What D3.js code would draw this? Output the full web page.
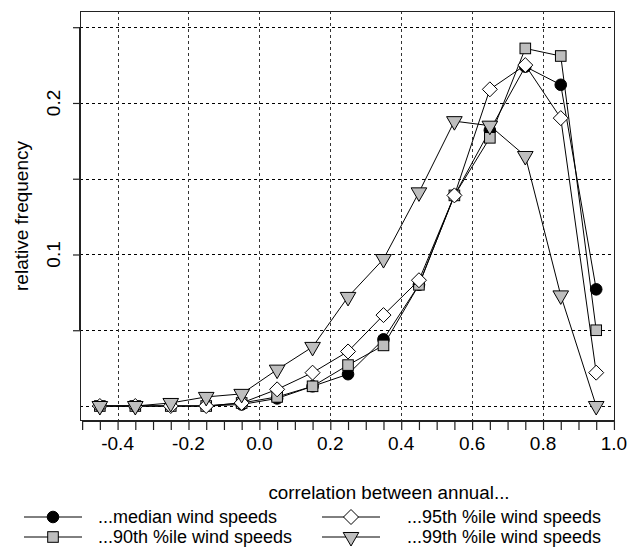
<!DOCTYPE html>
<html>
<head>
<meta charset="utf-8">
<script src="https://cdn.jsdelivr.net/npm/d3@7/dist/d3.min.js"></script>
<style>
  html, body { margin: 0; padding: 0; background: #fff; }
  svg { display: block; font-family: "Liberation Sans", Arial, Helvetica, sans-serif; }
</style>
</head>
<body>
<svg id="chart" width="629" height="552"></svg>
<script>
// Bin centres of the correlation histogram
const binCentres = [-0.45, -0.35, -0.25, -0.15, -0.05, 0.05, 0.15, 0.25, 0.35, 0.45, 0.55, 0.65, 0.75, 0.85, 0.95];

// Relative frequency per bin for each wind-speed statistic
const medianValues = [0.000, 0.000, 0.000, 0.000, 0.001, 0.005, 0.013, 0.021, 0.044, 0.080, 0.139, 0.182, 0.224, 0.212, 0.077];
const p90Values    = [0.000, 0.000, 0.000, 0.000, 0.002, 0.006, 0.013, 0.027, 0.040, 0.080, 0.139, 0.177, 0.236, 0.231, 0.050];
const p95Values    = [0.000, 0.000, 0.000, 0.000, 0.002, 0.011, 0.022, 0.036, 0.060, 0.083, 0.139, 0.209, 0.225, 0.190, 0.022];
const p99Values    = [0.000, 0.000, 0.002, 0.006, 0.008, 0.024, 0.039, 0.072, 0.097, 0.141, 0.188, 0.185, 0.165, 0.073, 0.000];

const seriesNames = ["...median wind speeds", "...90th %ile wind speeds", "...95th %ile wind speeds", "...99th %ile wind speeds"];

// Axis ticks
const xMinorTicks = d3.range(-10, 21).map(i => i * 0.05);
const xLabelTicks = [-0.4, -0.2, 0.0, 0.2, 0.4, 0.6, 0.8, 1.0];
const xGridTicks  = [-0.4, -0.2, 0.0, 0.2, 0.4, 0.6, 0.8];
const yTicks      = [0.05, 0.10, 0.15, 0.20, 0.25];
const yLabelTicks = [0.1, 0.2];
const yGridTicks  = [0, 0.05, 0.10, 0.15, 0.20, 0.25];

const xTitle = "correlation between annual...";
const yTitle = "relative frequency";

const svg = d3.select("#chart");
const plotL = 80, plotR = 615, plotT = 11, plotB = 421;

const x = d3.scaleLinear().domain([-0.506, 1.003]).range([plotL, plotR]);
const y = d3.scaleLinear().domain([-0.0099, 0.2607]).range([plotB, plotT]);

const FONT = 19;
const GREY = "#bebebe";

// Grid
const grid = svg.append("g").attr("stroke", "#000").attr("stroke-width", 1)
  .attr("stroke-dasharray", "3,3").attr("fill", "none");
grid.selectAll("line.h").data(yGridTicks).join("line").attr("class", "h")
  .attr("x1", plotL).attr("x2", plotR)
  .attr("y1", d => Math.round(y(d)) + 0.5).attr("y2", d => Math.round(y(d)) + 0.5);
grid.selectAll("line.v").data(xGridTicks).join("line").attr("class", "v")
  .attr("stroke", "#333")
  .attr("y1", plotT).attr("y2", plotB)
  .attr("x1", d => Math.round(x(d)) + 0.5).attr("x2", d => Math.round(x(d)) + 0.5);

// Plot frame
svg.append("rect")
  .attr("x", plotL + 0.5).attr("y", plotT + 0.5)
  .attr("width", plotR - plotL - 1).attr("height", plotB - plotT - 1)
  .attr("fill", "none").attr("stroke", "#222").attr("stroke-width", 1);

// X axis
const xAxis = d3.axisBottom(x).tickValues(xMinorTicks).tickSize(9).tickFormat("");
const gx = svg.append("g").attr("transform", `translate(0,${plotB})`).call(xAxis);
gx.select(".domain").remove();
gx.selectAll(".tick line").attr("stroke", "#222").attr("stroke-width", 1.2);
svg.append("line")
  .attr("x1", x(-0.5)).attr("x2", x(1.0)).attr("y1", plotB).attr("y2", plotB)
  .attr("stroke", "#222").attr("stroke-width", 2);
svg.append("g").selectAll("text").data(xLabelTicks).join("text")
  .attr("x", d => x(d)).attr("y", plotB + 28.5)
  .attr("text-anchor", "middle").attr("font-size", FONT).attr("fill", "#000")
  .text(d => d3.format(".1f")(d).replace("\u2212", "-"));

// Y axis
const yAxis = d3.axisLeft(y).tickValues(yTicks).tickSize(7).tickFormat("");
const gy = svg.append("g").attr("transform", `translate(${plotL},0)`).call(yAxis);
gy.select(".domain").remove();
gy.selectAll(".tick line").attr("stroke", "#222").attr("stroke-width", 1.2);
svg.append("line")
  .attr("x1", plotL).attr("x2", plotL).attr("y1", y(0.05)).attr("y2", y(0.25))
  .attr("stroke", "#222").attr("stroke-width", 2);
svg.append("g").selectAll("text").data(yLabelTicks).join("text")
  .attr("transform", d => `translate(60,${y(d)}) rotate(-90)`)
  .attr("text-anchor", "middle").attr("font-size", FONT).attr("fill", "#000")
  .text(d => d3.format(".1f")(d));

svg.append("text")
  .attr("transform", `translate(28,${(plotT + plotB) / 2}) rotate(-90)`)
  .attr("text-anchor", "middle").attr("font-size", FONT).attr("fill", "#000")
  .text(yTitle);

// Marker shapes
const R = 5.8;
const markers = {
  circle:   g => g.append("circle").attr("r", R).attr("fill", "#000"),
  square:   g => g.append("rect").attr("x", -5.3).attr("y", -5.3).attr("width", 10.6).attr("height", 10.6).attr("fill", GREY),
  diamond:  g => g.append("path").attr("d", "M0,-7.5L7.5,0L0,7.5L-7.5,0Z").attr("fill", "#fff"),
  triangle: g => g.append("path")
    .attr("d", `M0,${1.5551 * R}L${1.3468 * R},${-0.7776 * R}L${-1.3468 * R},${-0.7776 * R}Z`)
    .attr("fill", GREY)
};

const series = [
  { name: seriesNames[0], values: medianValues, shape: "circle" },
  { name: seriesNames[1], values: p90Values,    shape: "square" },
  { name: seriesNames[2], values: p95Values,    shape: "diamond" },
  { name: seriesNames[3], values: p99Values,    shape: "triangle" }
];

const line = d3.line().x(d => x(d[0])).y(d => y(d[1]));

series.forEach(s => {
  const pts = binCentres.map((c, i) => [c, s.values[i]]);
  const g = svg.append("g");
  g.append("path").datum(pts).attr("d", line)
    .attr("fill", "none").attr("stroke", "#000").attr("stroke-width", 1);
  pts.forEach(p => {
    const m = g.append("g").attr("transform", `translate(${x(p[0])},${y(p[1])})`);
    markers[s.shape](m).attr("stroke", "#000").attr("stroke-width", 1);
  });
});

// Legend
svg.append("text")
  .attr("x", 389).attr("y", 499)
  .attr("text-anchor", "middle").attr("font-size", 18.8).attr("fill", "#000")
  .text(xTitle);

const legendItems = [
  { s: series[0], lx: 24, tx: 98, ly: 517 },
  { s: series[1], lx: 24, tx: 98, ly: 537 },
  { s: series[2], lx: 322, tx: 407, ly: 517 },
  { s: series[3], lx: 322, tx: 407, ly: 537 }
];
legendItems.forEach(it => {
  const g = svg.append("g");
  g.append("line").attr("x1", it.lx).attr("x2", it.lx + 58)
    .attr("y1", it.ly).attr("y2", it.ly).attr("stroke", "#000").attr("stroke-width", 1);
  const m = g.append("g").attr("transform", `translate(${it.lx + 29},${it.ly})`);
  markers[it.s.shape](m).attr("stroke", "#000").attr("stroke-width", 1);
  g.append("text").attr("x", it.tx).attr("y", it.ly + 6)
    .attr("font-size", 18).attr("fill", "#000").text(it.s.name);
});
</script>
</body>
</html>
